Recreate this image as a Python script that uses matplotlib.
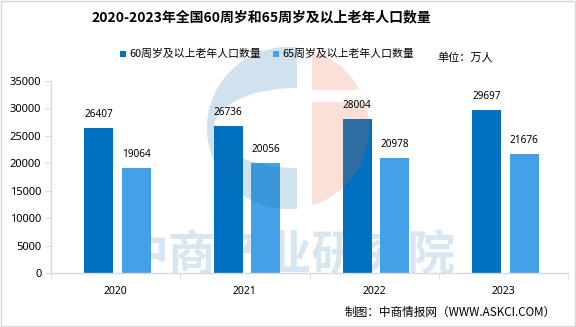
import numpy as np
import matplotlib
matplotlib.use("Agg")
import matplotlib.pyplot as plt
from matplotlib.patches import Polygon, Rectangle
from matplotlib.transforms import Affine2D

plt.rcParams['font.family'] = ['Noto Sans CJK SC', 'DejaVu Sans']

years = ['2020', '2021', '2022', '2023']
pop60 = [26407, 26736, 28004, 29697]
pop65 = [19064, 20056, 20978, 21676]
series_names = ['60周岁及以上老年人口数量', '65周岁及以上老年人口数量']
title = '2020-2023年全国60周岁和65周岁及以上老年人口数量'
unit = '单位：万人'
source = '制图：中商情报网（WWW.ASKCI.COM）'
watermark = '中商产业研究院'
yticks = [0, 5000, 10000, 15000, 20000, 25000, 30000, 35000]

C_DARK = '#0070C0'
C_LIGHT = '#45A1E7'
GRID = '#D9D9D9'

W, H = 576, 327
fig = plt.figure(figsize=(W / 100, H / 100), dpi=100)
pix = Affine2D().scale(1 / W, -1 / H).translate(0, 1) + fig.transFigure

ax = fig.add_axes([51 / W, 1 - 273 / H, (568 - 51) / W, (273 - 81) / H])
x = np.arange(len(years))
bw = 0.225
b1 = ax.bar(x - 0.13, pop60, bw, color=C_DARK, zorder=2)
b2 = ax.bar(x + 0.16, pop65, bw, color=C_LIGHT, zorder=2)
for bars, vals in ((b1, pop60), (b2, pop65)):
    for r, v in zip(bars, vals):
        ax.annotate(str(v), (r.get_x() + r.get_width() / 2, v), xytext=(0, 10),
                    textcoords='offset points', ha='center', va='center',
                    fontsize=7.2, family='Noto Sans', color='#000000', zorder=4)

ax.set_xlim(-0.5, len(years) - 0.5)
ax.set_ylim(0, 35000)
ax.set_yticks(yticks)
ax.set_yticklabels([str(t) for t in yticks], family='Noto Sans', fontsize=8)
ax.set_xticks(x)
ax.set_xticklabels(years, family='Noto Sans', fontsize=7.5)
ax.set_xticks(np.arange(-0.5, len(years)), minor=True)
ax.tick_params(axis='x', which='major', length=0, pad=9)
ax.tick_params(axis='x', which='minor', length=4, color=GRID, direction='out')
ax.tick_params(axis='y', length=4, color=GRID, pad=3, direction='out')
for s in ('top', 'right'):
    ax.spines[s].set_visible(False)
for s in ('left', 'bottom'):
    ax.spines[s].set_color(GRID)
    ax.spines[s].set_linewidth(1)

# watermark text (behind bars)
ax.text(288, 256, watermark, transform=pix, ha='center', va='center', fontsize=34.5,
        fontweight='bold', color='#D7E6F0', zorder=1, clip_on=False)

# logo (semi-transparent, above bars)
cx, cy, R = 288, 128, 81
t = np.linspace(np.arccos(9 / R), 2 * np.pi - np.arccos(9 / R), 200)
outer = np.column_stack([cx + R * np.cos(t), cy - R * np.sin(t)])
th = np.linspace(np.pi / 2, 3 * np.pi / 2, 120)
hole = np.column_stack([297 + 83 * np.cos(th), 128 - 40 * np.sin(th)])[::-1]
blue = np.vstack([outer, [[297, 168]], hole, [[297, 88]]])
ax.add_patch(Polygon(blue, closed=True, transform=pix, facecolor='#146EAA', alpha=0.2,
                     edgecolor='none', zorder=2.5, clip_on=False))
a0 = np.arccos(24 / R)
ts = np.linspace(-a0, a0, 200)
sal = np.column_stack([cx + R * np.cos(ts), cy - R * np.sin(ts)])
top = sal[sal[:, 1] <= 90]
bot = sal[sal[:, 1] >= 102]
top_poly = np.vstack([[[312, 90]], top[top[:, 1].argsort()[::-1]], [[312, top[:, 1].min()]]])
bot_poly = np.vstack([[[312, bot[:, 1].max()]], bot[bot[:, 1].argsort()[::-1]], [[312, 102]]])
for p in (top_poly, bot_poly):
    ax.add_patch(Polygon(p, closed=True, transform=pix, facecolor='#E66432', alpha=0.2,
                         edgecolor='none', zorder=2.5, clip_on=False))

# title
fig.text(261 / W, 1 - 17 / H, title, ha='center', va='center', fontsize=10,
         fontweight='bold', color='#000000')

# legend
for i, (name, col, xs) in enumerate(zip(series_names, [C_DARK, C_LIGHT], [120, 273])):
    fig.patches.append(Rectangle((xs, 50.5), 6, 6, transform=pix, facecolor=col,
                                 edgecolor='none', figure=fig))
    fig.text((xs + 9.5) / W, 1 - 54 / H, name, ha='left', va='center', fontsize=7.8,
             color='#000000')
fig.text(437 / W, 1 - 58 / H, unit, ha='left', va='center', fontsize=8, color='#000000')

# source
fig.text(556 / W, 1 - 312 / H, source, ha='right', va='center', fontsize=8.4,
         color='#000000')

# border
fig.patches.append(Rectangle((0.5, 0.5), W - 1.5, H - 1.5, transform=pix, facecolor='none',
                             edgecolor=GRID, lw=1, figure=fig))

fig.savefig('out.png', dpi=100)
